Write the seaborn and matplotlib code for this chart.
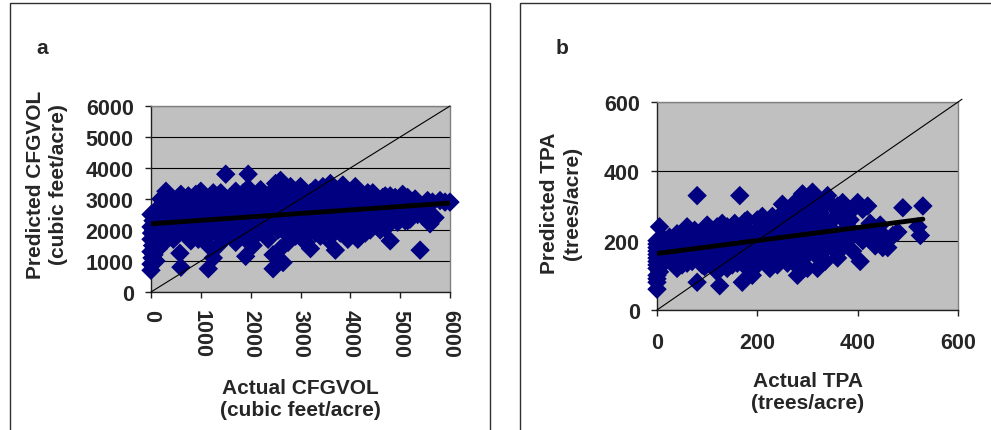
import numpy as np
import pandas as pd
import matplotlib
matplotlib.use("Agg")
import matplotlib.pyplot as plt
from matplotlib.patches import Rectangle
import seaborn as sns

# ---- panel a: CFGVOL (cubic feet/acre) ----
actual_a = [0, 0, 20, 0, 30, 0, 10, 0, 40, 0, 80, 60, 50, 100, 120, 150, 200, 180, 90,
            300, 250, 350, 400, 450, 500, 550, 600, 580, 450, 300, 650, 700, 750,
            800, 850, 900, 950, 1000, 1050, 1100, 1150, 1200, 1250, 1150, 900, 1200, 800, 1000,
            1300, 1350, 1400, 1450, 1500, 1550, 1600, 1650, 1700, 1750, 1800, 1850, 1900, 1950,
            2000, 1900, 1700, 2050, 1950, 2050,
            2100, 2150, 2200, 2250, 2300, 2350, 2400, 2450, 2450, 2500, 2550, 2600, 2650, 2650,
            2700, 2750, 2800, 2850, 2900, 2950, 2800, 2600, 2700, 2900,
            3000, 3050, 3100, 3150, 3200, 3200, 3300, 3350, 3400, 3450, 3500, 3550, 3600, 3650,
            3700, 3750, 3800, 3850, 3900, 3950, 3950, 3400, 3700,
            4000, 4050, 4100, 4150, 4200, 4250, 4300, 4350, 4400, 4450, 4500, 4550, 4600, 4650,
            4700, 4750, 4800, 4800, 4850, 4900, 4950, 5000, 4300, 4100,
            5050, 5100, 5150, 5200, 5250, 5300, 5400, 5450, 5500, 5600, 5650, 5700, 5800, 6000,
            5150, 5350,
            100, 150, 200, 250, 300, 350, 400, 450, 500, 550, 600, 650, 700, 750, 800, 850, 900,
            950, 1000, 1050, 1100, 1150, 1200, 1250, 1300, 1350, 1400, 1450, 1500, 1550, 1600,
            1650, 1700, 1750, 1800, 1850, 1900, 1950, 2000, 2050, 2100, 2150, 2200, 2250, 2300,
            2350, 2400, 2450, 2500, 2550, 2600, 2650, 2700, 2750, 2800, 2850, 2900, 2950, 3000,
            3050, 3100, 3150, 3200, 3250, 3300, 3350, 3400, 3450, 3500, 3550, 3600, 3650, 3700,
            3750, 3800, 3850, 3900, 3950, 4000, 4050, 4100, 4150, 4200, 4250, 4300, 4350, 4400,
            4450, 4500, 4550, 4600, 4650, 4700, 4750, 4900, 5000, 5100, 5250, 5450, 5550, 5900,
            200, 600, 1250, 1700, 3000, 3300, 3600,
            350, 700, 1000, 1400, 1800, 2200, 2600, 3000, 3400, 3800, 4200, 4600]
predicted_a = [700, 900, 1100, 1300, 1500, 1700, 1900, 2100, 2300, 2500, 2600, 1200, 2000, 1000, 2450, 2700, 2600, 1800, 1550,
               3250, 2300, 2900, 2100, 2600, 1900, 3050, 800, 1250, 1700, 1650, 2400, 2800, 3100,
               2000, 2600, 3150, 1700, 3250, 2300, 2800, 750, 1900, 1100, 1500, 2300, 3000, 1650, 2000,
               2500, 1500, 3200, 2100, 3800, 2700, 1800, 3100, 2300, 2900, 2000, 3200, 1150, 3800,
               2500, 1700, 1600, 1500, 3350, 2800,
               3100, 1900, 3300, 2300, 2700, 1700, 2900, 750, 1200, 3500, 2000, 3600, 950, 2500,
               3200, 1600, 2200, 3000, 1800, 2600, 3400, 1400, 2800, 3250,
               2300, 3200, 1600, 2700, 2000, 1400, 3000, 2400, 1800, 3400, 2600, 1700, 3100, 2200,
               1350, 2800, 1900, 3450, 2400, 3000, 1700, 2900, 3300,
               2100, 3300, 2700, 1700, 3000, 2300, 3100, 2600, 2000, 3200, 2400, 2800, 2300, 3050,
               2050, 2600, 1650, 3100, 2400, 2700, 2250, 2900, 1900, 3400,
               3150, 2500, 3050, 2350, 2700, 3000, 1350, 2450, 2600, 2200, 2900, 2400, 2950, 2900,
               2300, 2500,
               2200, 1400, 2000, 2700, 1900, 2500, 3000, 2200, 2800, 2400, 2000, 3000, 2200, 1800, 2400, 2900, 1900,
               2700, 2400, 3000, 2000, 2500, 2200, 2800, 1900, 3100, 2300, 2700, 1800, 2300, 3000,
               2500, 2000, 2600, 3000, 2300, 2700, 2100, 3100, 2300, 2600, 2900, 2100, 3100, 1900,
               2500, 3200, 2200, 2700, 3000, 2300, 3300, 1900, 2500, 2900, 2100, 2700, 3200, 2000,
               2600, 2900, 2100, 3200, 2500, 1900, 2800, 2200, 3000, 1900, 2500, 2700, 3300, 2000,
               2400, 3100, 2600, 2000, 2300, 2800, 2400, 1900, 3000, 2500, 2800, 2200, 3200, 2600,
               2300, 3000, 2500, 2000, 2700, 3100, 2300, 3050, 2500, 2300, 2450, 2700, 2950, 2900,
               3000, 3150, 3200, 3250, 3400, 3350, 3500,
               2000, 2500, 2100, 2600, 2200, 2700, 2150, 2800, 2200, 2600, 2100, 2600]
fit_a_x = [0, 6000]
fit_a_y = [2200, 2870]

# ---- panel b: TPA (trees/acre) ----
actual_b = [0, 0, 0, 0, 0, 0, 0, 0, 5, 10, 15, 20, 10, 0, 5,
            25, 30, 35, 40, 45, 50, 55, 60, 65, 70, 75, 80, 80, 85, 90, 95, 100, 40, 60, 100,
            105, 110, 115, 120, 125, 130, 135, 140, 145, 150, 155, 160, 165, 170, 170, 175, 180, 185,
            190, 195, 200, 120, 150, 180,
            205, 210, 215, 220, 225, 230, 235, 240, 245, 250, 255, 260, 265, 270, 275, 280, 280, 285,
            290, 295, 300, 300, 250, 230, 270,
            305, 310, 315, 320, 325, 330, 335, 340, 340, 345, 350, 355, 360, 365, 370, 375, 380, 385,
            390, 395, 400, 320,
            405, 410, 415, 420, 425, 430, 440, 450, 455, 460, 470, 480, 490, 520, 525, 530, 435, 445,
            0, 0, 0, 0, 10, 20, 20, 30, 30, 40, 40, 50, 50, 60, 60, 70, 70, 80, 80, 90, 90, 100, 100,
            110, 110, 120, 120, 130, 130, 140, 140, 150, 150, 160, 160, 170, 170, 180, 180, 190, 190,
            200, 200, 200, 210, 210, 220, 220, 220, 230, 230, 240, 240, 240, 250, 250, 260, 260,
            270, 270, 280, 280, 280, 290, 290, 290, 300, 300, 310, 310, 320, 320, 330, 330, 340,
            350, 350, 360, 370, 380, 390, 410, 420, 440, 460, 300, 330, 360, 380]
predicted_b = [60, 80, 100, 120, 140, 160, 180, 200, 240, 130, 170, 150, 190, 90, 110,
               210, 140, 180, 120, 200, 160, 225, 135, 190, 170, 230, 80, 330, 150, 210, 125, 180, 220, 240, 245,
               140, 230, 195, 160, 70, 250, 180, 120, 215, 160, 250, 135, 330, 80, 195, 255, 150, 225,
               100, 180, 260, 110, 230, 120,
               140, 210, 250, 170, 120, 230, 190, 265, 150, 305, 210, 135, 245, 180, 310, 100, 220, 160,
               335, 250, 190, 120, 180, 270, 280,
               300, 340, 160, 230, 280, 190, 140, 330, 250, 210, 300, 170, 150, 270, 310, 230, 200, 260,
               170, 220, 310, 120,
               140, 290, 230, 300, 250, 200, 220, 180, 210, 200, 215, 225, 295, 240, 215, 300, 185, 245,
               130, 150, 170, 190, 210, 170, 190, 160, 200, 140, 180, 130, 210, 170, 200, 140, 210,
               160, 190, 130, 170, 150, 210,
               130, 180, 200, 240, 150, 210, 170, 240, 130, 195, 170, 215, 140, 240, 180, 260, 150,
               215, 130, 195, 230, 160, 270, 140, 210, 240, 160, 200, 130, 180, 230, 150, 240, 170,
               270, 140, 210, 170, 250, 290, 130, 200, 230, 160, 270, 200, 250, 170, 310, 220, 260,
               180, 230, 260, 200, 180, 240, 290, 200, 220, 200, 180, 320, 300, 300, 285]
fit_b_x = [0, 530]
fit_b_y = [163, 262]

sns.set_style("white")
plt.rcParams['font.family'] = ['Liberation Sans', 'DejaVu Sans']
plt.rcParams['font.weight'] = 'bold'

W, H = 991, 431
fig = plt.figure(figsize=(W / 100, H / 100), dpi=100)

# chart frames
fig.patches.append(Rectangle((10 / W, -0.05), 480 / W, 1.05 - 4 / H, transform=fig.transFigure,
                             fill=False, edgecolor='#303030', lw=1.0))
fig.patches.append(Rectangle((520 / W, -0.05), 480 / W, 1.05 - 4 / H, transform=fig.transFigure,
                             fill=False, edgecolor='#303030', lw=1.0))

ax_a = fig.add_axes([151 / W, (H - 293) / H, 299 / W, 186 / H])
ax_b = fig.add_axes([657 / W, (H - 311) / H, 301 / W, 208 / H])

df_a = pd.DataFrame({'actual': actual_a, 'predicted': predicted_a})
df_b = pd.DataFrame({'actual': actual_b, 'predicted': predicted_b})

for ax, df, lim, step, fx, fy, onex in [
        (ax_a, df_a, 6000, 1000, fit_a_x, fit_a_y, [0, 6000]),
        (ax_b, df_b, 600, 200, fit_b_x, fit_b_y, [0, 608])]:
    ax.set_facecolor('#C0C0C0')
    ax.set_axisbelow(True)
    ax.yaxis.grid(True, color='black', lw=0.8)
    sns.scatterplot(data=df, x='actual', y='predicted', marker='D', s=98,
                    color='#000080', edgecolor='none', linewidth=0, ax=ax, zorder=3,
                    clip_on=False)
    ax.plot(onex, onex, color='black', lw=0.8, zorder=4, clip_on=False)
    sns.lineplot(x=fx, y=fy, color='black', lw=3.5, ax=ax, zorder=5)
    ax.set_xlim(0, lim)
    ax.set_ylim(0, lim)
    ax.set_xticks(np.arange(0, lim + 1, step))
    ax.set_yticks(np.arange(0, lim + 1, step))
    ax.set_xlabel('')
    ax.set_ylabel('')
    for s in ['top', 'right']:
        ax.spines[s].set_color('#808080')
        ax.spines[s].set_linewidth(1.0)
    for s in ['left', 'bottom']:
        ax.spines[s].set_color('#202020')
        ax.spines[s].set_linewidth(1.0)
    ax.tick_params(axis='both', direction='out', length=4.5, width=1, color='#202020',
                   labelsize=15.5, pad=8, bottom=True, left=True)
    for lab in ax.get_xticklabels() + ax.get_yticklabels():
        lab.set_fontweight('bold')

ax_b.tick_params(axis='x', pad=11)
for lab in ax_a.get_xticklabels():
    lab.set_rotation(-90)
    lab.set_va('top')
    lab.set_ha('center')

# panel letters and axis titles
fig.text(42 / W, 1 - 49 / H, 'a', fontsize=15, fontweight='bold', ha='center', va='center')
fig.text(562 / W, 1 - 48 / H, 'b', fontsize=15, fontweight='bold', ha='center', va='center')

fig.text(47 / W, 1 - 185 / H, 'Predicted CFGVOL\n(cubic feet/acre)', rotation=90,
         fontsize=15, fontweight='bold', ha='center', va='center', multialignment='center',
         linespacing=1.3)
fig.text(300 / W, 1 - 400 / H, 'Actual CFGVOL\n(cubic feet/acre)', fontsize=15,
         fontweight='bold', ha='center', va='center', multialignment='center', linespacing=1.2)
fig.text(561 / W, 1 - 203 / H, 'Predicted TPA\n(trees/acre)', rotation=90,
         fontsize=15, fontweight='bold', ha='center', va='center', multialignment='center',
         linespacing=1.3)
fig.text(808 / W, 1 - 393 / H, 'Actual TPA\n(trees/acre)', fontsize=15,
         fontweight='bold', ha='center', va='center', multialignment='center', linespacing=1.2)

fig.savefig('out.png', dpi=100)
